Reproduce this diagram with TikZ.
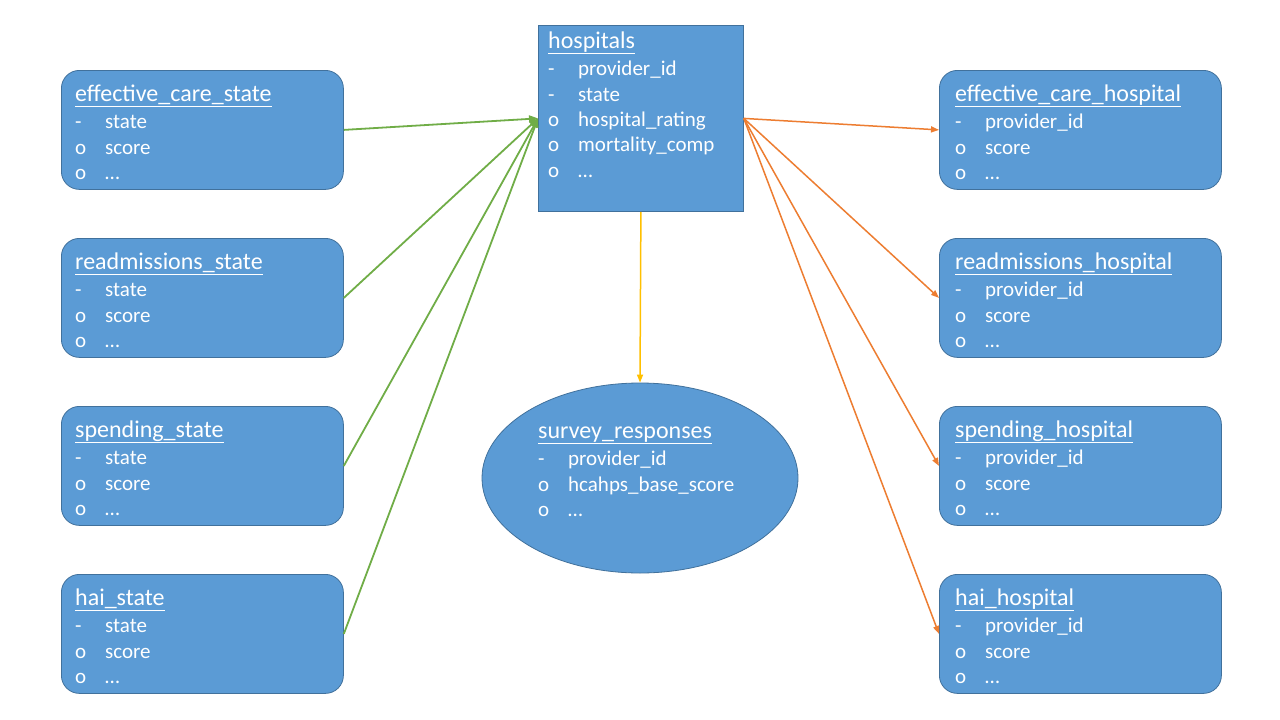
\documentclass[tikz,border=0pt]{standalone}
\usepackage{fontspec}
\setmainfont{Carlito}
\usetikzlibrary{shapes.geometric,arrows.meta}
\definecolor{boxfill}{HTML}{5B9BD5}
\definecolor{boxline}{HTML}{41719C}
\definecolor{grn}{HTML}{70AD47}
\definecolor{org}{HTML}{ED7D31}
\definecolor{ylw}{HTML}{FFC000}
\newcommand\titleul[1]{\setbox0\hbox{#1}\rlap{\rule[-6.3pt]{\wd0}{1.4pt}}\box0}
\newcommand\enttab[2]{\begin{tabular}[t]{@{}p{30pt}@{}l@{}}\multicolumn{2}{@{}l@{}}{\fontsize{24}{25.5}\selectfont\titleul{#1}}\\[2pt] #2\end{tabular}}
\tikzset{
  ent/.style={draw=boxline, fill=boxfill, line width=0.8pt, rounded corners=18pt, minimum width=282pt, minimum height=119pt, inner sep=0pt, anchor=north west},
  hospbox/.style={draw=boxline, fill=boxfill, line width=0.8pt, minimum width=205pt, minimum height=186pt, inner sep=0pt, anchor=north west},
  ellbox/.style={ellipse, draw=boxline, fill=boxfill, line width=0.8pt, minimum width=316pt, minimum height=190pt, inner sep=0pt},
  txt/.style={text=white, anchor=base west, inner sep=0pt, font=\fontsize{21}{25.5}\selectfont},
  garrow/.style={draw=grn, line width=1.8pt, -{Triangle[length=9pt,width=7pt]}},
  oarrow/.style={draw=org, line width=1.5pt, -{Triangle[length=8pt,width=6pt]}},
  yarrow/.style={draw=ylw, line width=1.5pt, -{Triangle[length=8pt,width=6pt]}}
}
\begin{document}
\begin{tikzpicture}[x=1pt,y=-1pt]
\useasboundingbox[fill=white] (0,0) rectangle (1280,720);
% boxes
\node[hospbox] (hosp) at (538,25) {};
\node[ellbox] (surv) at (640,478) {};
\node[ent] (ecs) at (61,70) {};
\node[ent] (rs) at (61,238) {};
\node[ent] (ss) at (61,406) {};
\node[ent] (hs) at (61,574) {};
\node[ent] (ech) at (939,70) {};
\node[ent] (rh) at (939,238) {};
\node[ent] (sh) at (939,406) {};
\node[ent] (hh) at (939,574) {};
% texts
\node[txt] (hospt) at (548,48) {\enttab{hospitals}{-&provider\_id\\ -&state\\ o&hospital\_rating\\ o&mortality\_comp\\ o&\dots}};
\node[txt] (survt) at (538,438) {\enttab{survey\_responses}{-&provider\_id\\ o&hcahps\_base\_score\\ o&\dots}};
\node[txt] (ecst) at (75,101) {\enttab{effective\_care\_state}{-&state\\ o&score\\ o&\dots}};
\node[txt] (rst) at (75,269) {\enttab{readmissions\_state}{-&state\\ o&score\\ o&\dots}};
\node[txt] (sst) at (75,437) {\enttab{spending\_state}{-&state\\ o&score\\ o&\dots}};
\node[txt] (hst) at (75,605) {\enttab{hai\_state}{-&state\\ o&score\\ o&\dots}};
\node[txt] (echt) at (955,101) {\enttab{effective\_care\_hospital}{-&provider\_id\\ o&score\\ o&\dots}};
\node[txt] (rht) at (955,269) {\enttab{readmissions\_hospital}{-&provider\_id\\ o&score\\ o&\dots}};
\node[txt] (sht) at (955,437) {\enttab{spending\_hospital}{-&provider\_id\\ o&score\\ o&\dots}};
\node[txt] (hht) at (955,605) {\enttab{hai\_hospital}{-&provider\_id\\ o&score\\ o&\dots}};
% connectors
\draw[garrow] (ecs.east) -- (hosp.west);
\draw[garrow] (rs.east) -- (hosp.west);
\draw[garrow] (ss.east) -- (hosp.west);
\draw[garrow] (hs.east) -- (hosp.west);
\draw[oarrow] (hosp.east) -- (ech.west);
\draw[oarrow] (hosp.east) -- (rh.west);
\draw[oarrow] (hosp.east) -- (sh.west);
\draw[oarrow] (hosp.east) -- (hh.west);
\draw[yarrow] (hosp.south) -- (surv.north);
\end{tikzpicture}
\end{document}
